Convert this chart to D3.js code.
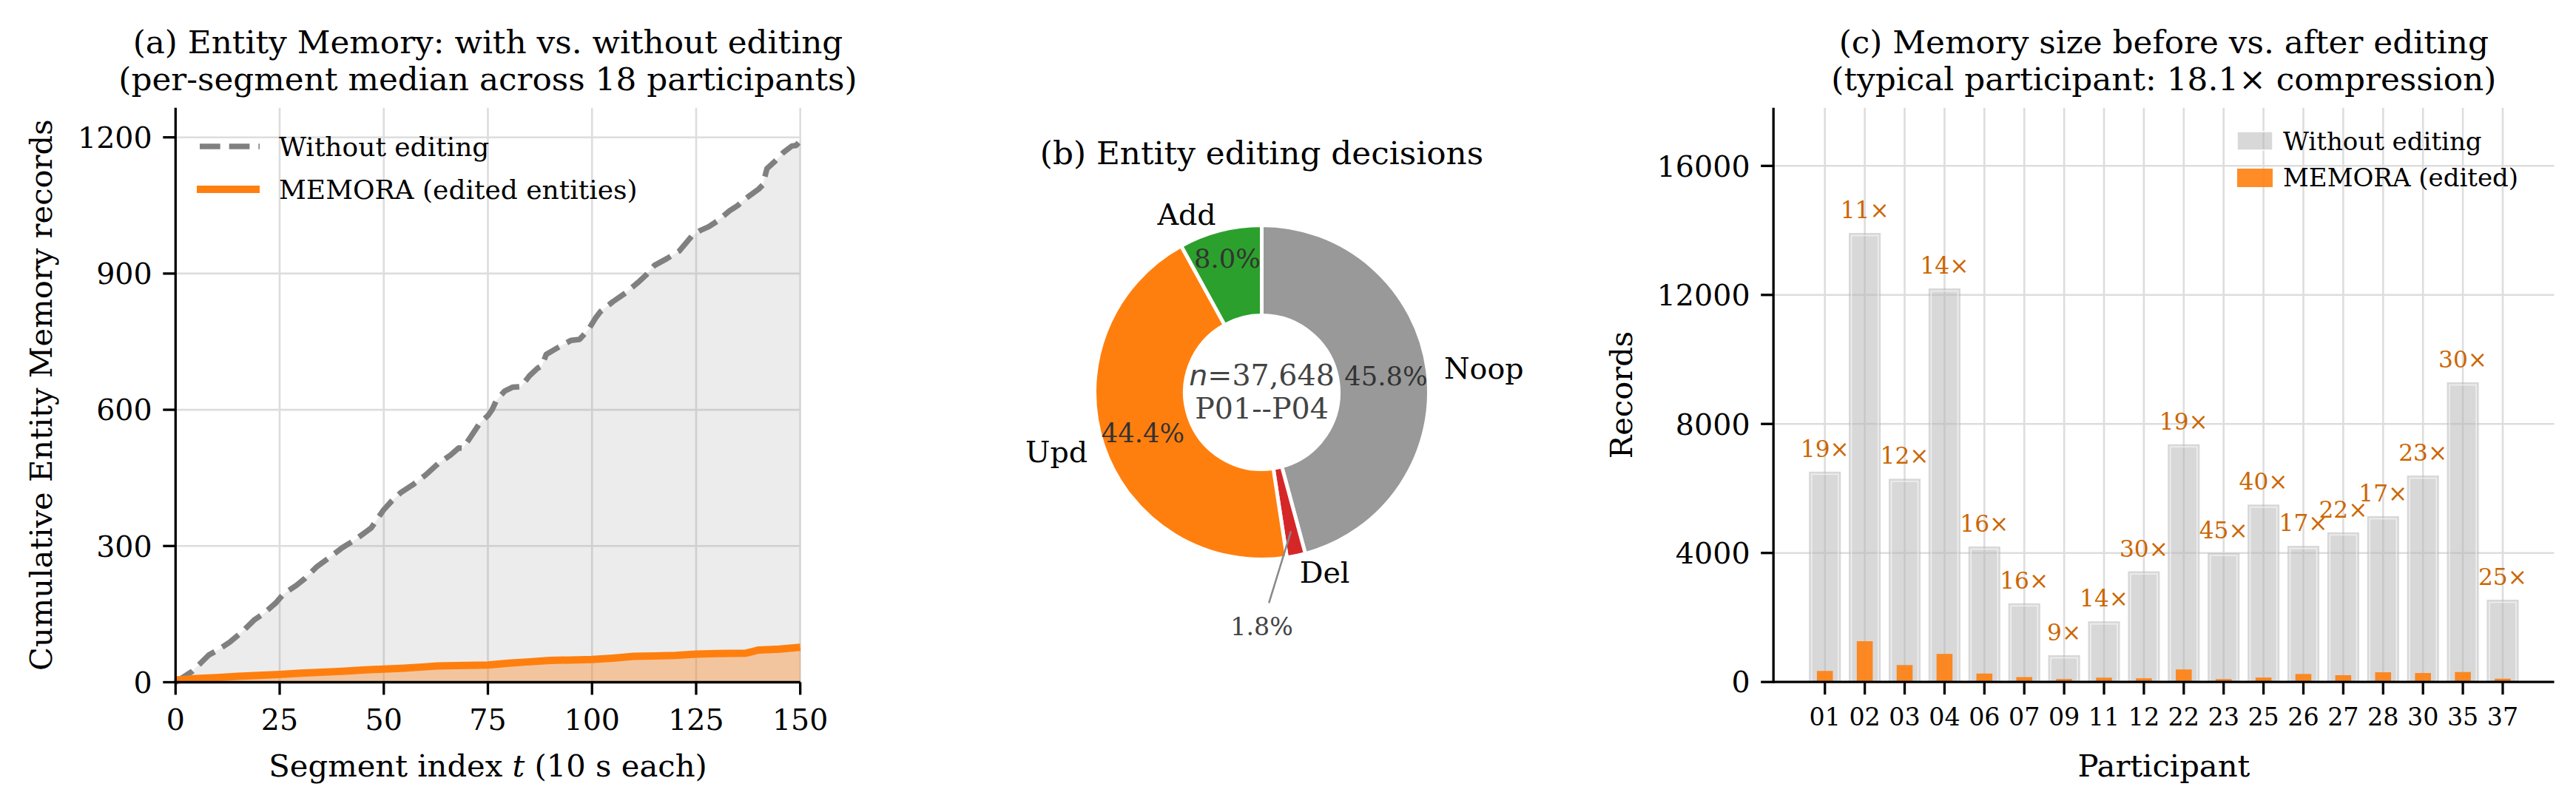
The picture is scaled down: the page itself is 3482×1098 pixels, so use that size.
<!DOCTYPE html>
<html><head><meta charset="utf-8">
<script src="https://cdn.jsdelivr.net/npm/d3@7"></script>
<style>
body{margin:0;background:#fff}
svg text{font-family:"DejaVu Serif",serif}
</style>
</head><body>
<svg id="fig" width="3482" height="1098"></svg>
<script>
// ---------------- DATA ----------------
// (a) cumulative Entity Memory records, per-segment median
const segT = [0,4,8,10,13,16,19,21,24,26,29,31,34,37,40,43,46,47,50,52,54,57,60,63,66,68,69,71,73,75,76,77,79,81,83,85,87,88,89,92,95,97,99,101,102,105,108,111,113,115,118,121,124,126,128,130,133,135,137,140,141,142,144,146,148,149,150];
const withoutEditing = [0,24,60,70,88,111,138,150,174,195,213,228,255,275,296,313,333,340,380,400,417,435,456,481,500,516,515,542,570,587,600,620,641,650,651,675,692,697,722,738,753,755,775,804,816,838,857,880,897,918,933,950,983,995,1003,1015,1038,1050,1066,1086,1095,1131,1148,1167,1181,1182,1192];
const memoraT = [0,5,10,15,20,25,30,35,40,45,50,55,60,63,70,75,80,85,90,95,100,105,110,115,120,125,130,137,140,145,150];
const memoraEdited = [5,8,10,13,15,17,20,22,24,27,29,31,34,36,37,38,42,45,48,49,50,53,57,58,59,62,63,64,71,73,77];
const aXTicks = [0,25,50,75,100,125,150];
const aYTicks = [0,300,600,900,1200];

// (b) entity editing decisions (percent)
const decisionLabels = ["Noop","Del","Upd","Add"];
const decisionShares = [45.8,1.8,44.4,8.0];
const decisionColors = ["#999999","#d62728","#ff7f0e","#2ca02c"];
const decisionPctDist = [0.75,null,0.75,0.83];
const centerLines = ["=37,648","P01--P04"];

// (c) memory size per participant
const participants = ["01","02","03","04","06","07","09","11","12","22","23","25","26","27","28","30","35","37"];
const recordsWithout = [6520,13920,6300,12200,4200,2440,830,1880,3430,7370,4000,5500,4220,4640,5140,6400,9290,2550];
const recordsMemora = [343,1265,525,871,262,152,92,134,114,388,89,138,248,211,302,278,310,102];
const compressionX = [19,11,12,14,16,16,9,14,30,19,45,40,17,22,17,23,30,25];
const cYTicks = [0,4000,8000,12000,16000];

// ---------------- DRAW ----------------
const svg = d3.select("#fig");
const GRID = "#dddddd", GW = 2.6, SW = 3.3, TL = 17;
const TICK_FS = 39.6, LABEL_FS = 41.7, TITLE_FS = 43.75;

function title(g, cx, lines, y0) {
  lines.forEach((t,i)=> g.append("text").attr("x",cx).attr("y",y0+i*50)
    .attr("text-anchor","middle").attr("font-size",TITLE_FS).text(t));
}
function spines(g, x0, x1, yb, yt) {
  g.append("line").attr("x1",x0).attr("x2",x0).attr("y1",yt).attr("y2",yb+SW/2)
    .attr("stroke","#000").attr("stroke-width",SW);
  g.append("line").attr("x1",x0-SW/2).attr("x2",x1).attr("y1",yb).attr("y2",yb)
    .attr("stroke","#000").attr("stroke-width",SW);
}

// ===== Panel (a) =====
{
  const g = svg.append("g");
  const x = d3.scaleLinear([0,150],[237.3,1081.7]);
  const y = d3.scaleLinear([0,1265],[922.5,145.8]);
  const [X0,X1] = x.range(), [YB,YT] = y.range();
  // grid
  g.selectAll(".gx").data(aXTicks).join("line").attr("x1",d=>x(d)).attr("x2",d=>x(d))
    .attr("y1",YT).attr("y2",YB).attr("stroke",GRID).attr("stroke-width",GW);
  g.selectAll(".gy").data(aYTicks).join("line").attr("y1",d=>y(d)).attr("y2",d=>y(d))
    .attr("x1",X0).attr("x2",X1).attr("stroke",GRID).attr("stroke-width",GW);
  const gray = segT.map((t,i)=>[t,withoutEditing[i]]);
  const org = memoraT.map((t,i)=>[t,memoraEdited[i]]);
  const area = d3.area().x(d=>x(d[0])).y0(y(0)).y1(d=>y(d[1]));
  const line = d3.line().x(d=>x(d[0])).y(d=>y(d[1]));
  g.append("path").attr("d",area(gray)).attr("fill","#808080").attr("fill-opacity",0.15);
  g.append("path").attr("d",area(org)).attr("fill","#ff7f0e").attr("fill-opacity",0.35);
  g.append("path").attr("d",line(gray)).attr("fill","none").attr("stroke","#808080")
    .attr("stroke-width",7.5).attr("stroke-dasharray","27.7,12").attr("stroke-linejoin","round");
  g.append("path").attr("d",line(org)).attr("fill","none").attr("stroke","#ff7f0e")
    .attr("stroke-width",10).attr("stroke-linejoin","round");
  spines(g,X0,X1,YB,YT);
  // ticks
  aXTicks.forEach(d=>{
    g.append("line").attr("x1",x(d)).attr("x2",x(d)).attr("y1",YB).attr("y2",YB+TL)
      .attr("stroke","#000").attr("stroke-width",SW);
    g.append("text").attr("x",x(d)).attr("y",987).attr("text-anchor","middle")
      .attr("font-size",TICK_FS).text(d);
  });
  aYTicks.forEach(d=>{
    g.append("line").attr("x1",X0-TL).attr("x2",X0).attr("y1",y(d)).attr("y2",y(d))
      .attr("stroke","#000").attr("stroke-width",SW);
    g.append("text").attr("x",X0-TL-14.6).attr("y",y(d)).attr("dy","0.36em")
      .attr("text-anchor","end").attr("font-size",TICK_FS).text(d);
  });
  const xl = g.append("text").attr("x",(X0+X1)/2).attr("y",1050).attr("text-anchor","middle")
    .attr("font-size",LABEL_FS);
  xl.append("tspan").text("Segment index ");
  xl.append("tspan").attr("font-style","italic").text("t");
  xl.append("tspan").text(" (10 s each)");
  g.append("text").attr("transform",`translate(70,${(YB+YT)/2}) rotate(-90)`)
    .attr("text-anchor","middle").attr("font-size",LABEL_FS).text("Cumulative Entity Memory records");
  title(g,(X0+X1)/2,["(a) Entity Memory: with vs. without editing","(per-segment median across 18 participants)"],71.7);
  // legend
  const LF = 36;
  g.append("line").attr("x1",266).attr("x2",351).attr("y1",198).attr("y2",198)
    .attr("stroke","#808080").attr("stroke-width",7.5).attr("stroke-dasharray","27.7,12")
    .attr("stroke-dashoffset",-4);
  g.append("line").attr("x1",266).attr("x2",351).attr("y1",256).attr("y2",256)
    .attr("stroke","#ff7f0e").attr("stroke-width",10);
  g.append("text").attr("x",377).attr("y",210.7).attr("font-size",LF).text("Without editing");
  g.append("text").attr("x",377).attr("y",269.3).attr("font-size",LF).text("MEMORA (edited entities)");
}

// ===== Panel (b) =====
{
  const cx = 1705.5, cy = 530.5, R = 226, RI = 104;
  const g = svg.append("g").attr("transform",`translate(${cx},${cy})`);
  const pie = d3.pie().sort(null).value(d=>d);
  const arcs = pie(decisionShares);
  const arc = d3.arc().innerRadius(RI).outerRadius(R);
  g.selectAll("path").data(arcs).join("path").attr("d",arc)
    .attr("fill",(d,i)=>decisionColors[i]).attr("stroke","#fff").attr("stroke-width",5)
    .attr("stroke-linejoin","miter");
  const pt = (a,dist)=>[Math.sin(a)*dist*R, -Math.cos(a)*dist*R];
  arcs.forEach((d,i)=>{
    const a = (d.startAngle+d.endAngle)/2;
    const [lx,ly] = pt(a,1.1);
    g.append("text").attr("x",lx).attr("y",ly).attr("dy","0.36em")
      .attr("text-anchor", lx>0?"start":"end").attr("font-size",39.6).text(decisionLabels[i]);
    if (decisionPctDist[i]!==null) {
      const [px,py] = pt(a,decisionPctDist[i]);
      g.append("text").attr("x",px).attr("y",py).attr("dy","0.36em").attr("text-anchor","middle")
        .attr("font-size",35.4).attr("fill","#333").text(decisionShares[i].toFixed(1)+"%");
    } else {
      const [sx,sy] = pt(a,0.85);
      g.append("line").attr("x1",sx).attr("y1",sy).attr("x2",0.043*R).attr("y2",1.26*R)
        .attr("stroke","#888").attr("stroke-width",2.5);
      g.append("text").attr("x",0).attr("y",1.40*R).attr("dy","0.36em").attr("text-anchor","middle")
        .attr("font-size",33.3).attr("fill","#444").text(decisionShares[i].toFixed(1)+"%");
    }
  });
  const t1 = g.append("text").attr("x",0).attr("y",-24).attr("dy","0.36em").attr("text-anchor","middle")
    .attr("font-size",39.6).attr("fill","#444");
  t1.append("tspan").attr("font-family","DejaVu Sans").attr("font-style","italic").text("n");
  t1.append("tspan").text(centerLines[0]);
  g.append("text").attr("x",0).attr("y",21).attr("dy","0.36em").attr("text-anchor","middle")
    .attr("font-size",39.6).attr("fill","#444").text(centerLines[1]);
  svg.append("text").attr("x",cx).attr("y",222).attr("text-anchor","middle")
    .attr("font-size",TITLE_FS).text("(b) Entity editing decisions");
}

// ===== Panel (c) =====
{
  const g = svg.append("g");
  const x = d3.scaleLinear([-1.29,18.29],[2397.2,3452.5]);
  const y = d3.scaleLinear([0,17800],[922.2,145.8]);
  const [X0,X1] = x.range(), [YB,YT] = y.range();
  const idx = participants.map((_,i)=>i);
  const bw = x(0.4)-x(0), ow = x(0.2)-x(0);
  g.selectAll(".gx").data(idx).join("line").attr("x1",d=>x(d)).attr("x2",d=>x(d))
    .attr("y1",YT).attr("y2",YB).attr("stroke",GRID).attr("stroke-width",GW);
  g.selectAll(".gy").data(cYTicks).join("line").attr("y1",d=>y(d)).attr("y2",d=>y(d))
    .attr("x1",X0).attr("x2",X1).attr("stroke",GRID).attr("stroke-width",GW);
  g.selectAll(".bw").data(idx).join("rect").attr("x",d=>x(d)-bw).attr("width",2*bw)
    .attr("y",d=>y(recordsWithout[d])).attr("height",d=>YB-y(recordsWithout[d]))
    .attr("fill","#b5b5b5").attr("fill-opacity",0.52);
  g.selectAll(".be").data(idx).join("rect").attr("x",d=>x(d)-bw+3.5).attr("width",2*bw-7)
    .attr("y",d=>y(recordsWithout[d])+3.5).attr("height",d=>Math.max(0,YB-y(recordsWithout[d])-3.5))
    .attr("fill","none").attr("stroke","#fff").attr("stroke-opacity",0.6).attr("stroke-width",1.6);
  g.selectAll(".bm").data(idx).join("rect").attr("x",d=>x(d)-ow).attr("width",2*ow)
    .attr("y",d=>y(recordsMemora[d])).attr("height",d=>YB-y(recordsMemora[d]))
    .attr("fill","#ff7f0e").attr("fill-opacity",0.9);
  g.selectAll(".rl").data(idx).join("text").attr("x",d=>x(d)).attr("y",d=>y(recordsWithout[d])-20)
    .attr("text-anchor","middle").attr("font-family","DejaVu Sans").attr("font-size",31.25)
    .attr("fill","#cc6600").text(d=>compressionX[d]+"×");
  spines(g,X0,X1,YB,YT);
  idx.forEach(d=>{
    g.append("line").attr("x1",x(d)).attr("x2",x(d)).attr("y1",YB).attr("y2",YB+TL)
      .attr("stroke","#000").attr("stroke-width",SW);
    g.append("text").attr("x",x(d)).attr("y",981).attr("text-anchor","middle")
      .attr("font-size",33.3).text(participants[d]);
  });
  cYTicks.forEach(d=>{
    g.append("line").attr("x1",X0-TL).attr("x2",X0).attr("y1",y(d)).attr("y2",y(d))
      .attr("stroke","#000").attr("stroke-width",SW);
    g.append("text").attr("x",X0-TL-14.6).attr("y",y(d)).attr("dy","0.36em")
      .attr("text-anchor","end").attr("font-size",TICK_FS).text(d);
  });
  g.append("text").attr("x",(X0+X1)/2).attr("y",1050).attr("text-anchor","middle")
    .attr("font-size",LABEL_FS).text("Participant");
  g.append("text").attr("transform",`translate(2206,${(YB+YT)/2}) rotate(-90)`)
    .attr("text-anchor","middle").attr("font-size",LABEL_FS).text("Records");
  title(g,(X0+X1)/2,["(c) Memory size before vs. after editing","(typical participant: 18.1× compression)"],71.7);
  // legend
  const LF = 34;
  g.append("rect").attr("x",3024).attr("y",178).attr("width",48).attr("height",25)
    .attr("fill","#b5b5b5").attr("fill-opacity",0.52).attr("stroke","#fff").attr("stroke-width",1.5);
  g.append("rect").attr("x",3024).attr("y",228).attr("width",48).attr("height",25)
    .attr("fill","#ff7f0e").attr("fill-opacity",0.9);
  g.append("text").attr("x",3086).attr("y",191).attr("dy","0.36em").attr("font-size",LF).text("Without editing");
  g.append("text").attr("x",3086).attr("y",240).attr("dy","0.36em").attr("font-size",LF).text("MEMORA (edited)");
}
</script>
</body></html>
